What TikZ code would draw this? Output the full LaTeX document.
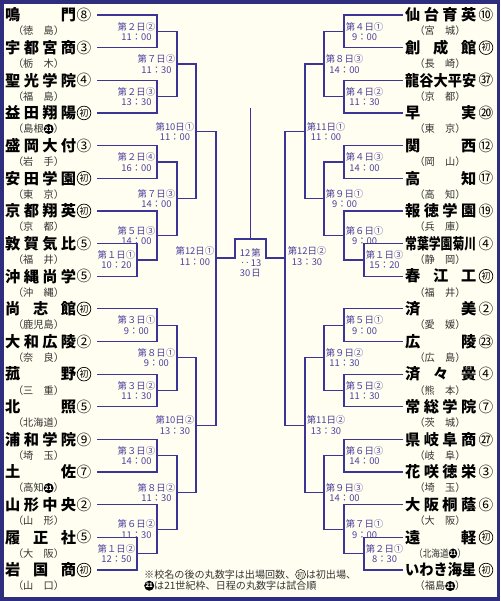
\documentclass[tikz,border=0pt]{standalone}
\usepackage{fontspec}
\setmainfont{Noto Sans CJK JP}
\usepackage{graphicx}
\definecolor{paperIvory}{HTML}{FFFEF0}
\definecolor{frameNavy}{HTML}{2E2D7E}
\definecolor{lineIndigo}{HTML}{3A3596}
\definecolor{schedPurple}{HTML}{4B40A0}
\definecolor{prefGray}{HTML}{333333}
% black circled 21 and circled "first" mark used inside texts
\newcommand{\kuro}{\tikz[baseline=-0.36em]\node[anchor=center,circle,fill=black,text=white,inner sep=0pt,minimum size=0.3cm,font=\fontsize{5.2}{5.5}\selectfont\bfseries]{21};}
\newcommand{\shoc}{\tikz[baseline=-0.36em]\node[anchor=center,circle,draw=black,line width=0.4pt,inner sep=0pt,minimum size=0.3cm,font=\fontsize{5.8}{6}\selectfont]{初};}
\newcommand{\sho}{{\fontsize{7.5}{8}\selectfont 初}}

\begin{document}
\begin{tikzpicture}[x=0.03cm, y=-0.03cm,
  school/.style={font=\fontsize{13}{14}\selectfont\bfseries, text=black, inner sep=0pt},
  pref/.style={font=\fontsize{8.7}{9}\selectfont, text=prefGray, inner sep=0pt},
  maru/.style={circle, line width=0.6pt, minimum size=0.41cm, inner sep=0pt, font=\fontsize{12.5}{13}\selectfont},
  sched/.style={font=\fontsize{8}{8.8}\selectfont, text=schedPurple, align=center, inner sep=0.5pt},
  link/.style={draw=lineIndigo, line width=1.1pt}]

  \fill[paperIvory] (0,0) rectangle (500,601);
  \useasboundingbox (0,0) rectangle (500,601);

  % --- left schools ---
  \foreach \i/\sch/\dw/\mk/\pf in {
      0/鳴\hfill 門/none/⑧/（徳　島）,
      1/宇\hfill 都\hfill 宮\hfill 商/none/③/（栃　木）,
      2/聖\hfill 光\hfill 学\hfill 院/none/④/（福　島）,
      3/益\hfill 田\hfill 翔\hfill 陽/black/\sho/（島根\kuro）,
      4/盛\hfill 岡\hfill 大\hfill 付/none/③/（岩　手）,
      5/安\hfill 田\hfill 学\hfill 園/black/\sho/（東　京）,
      6/京\hfill 都\hfill 翔\hfill 英/black/\sho/（京　都）,
      7/敦\hfill 賀\hfill 気\hfill 比/none/⑤/（福　井）,
      8/沖\hfill 縄\hfill 尚\hfill 学/none/⑤/（沖　縄）,
      9/尚\hfill 志\hfill 館/black/\sho/（鹿児島）,
      10/大\hfill 和\hfill 広\hfill 陵/none/②/（奈　良）,
      11/菰\hfill 野/black/\sho/（三　重）,
      12/北\hfill 照/none/⑤/（北海道）,
      13/浦\hfill 和\hfill 学\hfill 院/none/⑨/（埼　玉）,
      14/土\hfill 佐/none/⑦/（高知\kuro）,
      15/山\hfill 形\hfill 中\hfill 央/none/②/（山　形）,
      16/履\hfill 正\hfill 社/none/⑤/（大　阪）,
      17/岩\hfill 国\hfill 商/black/\sho/（山　口）}{
    \pgfmathsetmacro{\y}{15+32.65*\i}
    \node[school, anchor=west] (L\i) at (5,\y) {\makebox[2.13cm][s]{\sch}};
    \node[maru, draw=\dw] (Lm\i) at (84,\y) {\mk};
    \node[pref] (Lp\i) at (38.5,\y+16) {\pf};
    \coordinate (a\i) at (97,\y);
  }

  % --- right schools ---
  \foreach \i/\sch/\dw/\mk/\pf in {
      0/仙\hfill 台\hfill 育\hfill 英/none/⑩/（宮　城）,
      1/創\hfill 成\hfill 館/black/\sho/（長　崎）,
      2/\resizebox{2.13cm}{\height}{龍谷大平安}/none/㊲/（京　都）,
      3/早\hfill 実/none/⑳/（東　京）,
      4/関\hfill 西/none/⑫/（岡　山）,
      5/高\hfill 知/none/⑰/（高　知）,
      6/報\hfill 徳\hfill 学\hfill 園/none/⑲/（兵　庫）,
      7/\resizebox{2.13cm}{\height}{常葉学園菊川}/none/④/（静　岡）,
      8/春\hfill 江\hfill 工/black/\sho/（福　井）,
      9/済\hfill 美/none/②/（愛　媛）,
      10/広\hfill 陵/none/㉓/（広　島）,
      11/済\hfill 々\hfill 黌/none/④/（熊　本）,
      12/常\hfill 総\hfill 学\hfill 院/none/⑦/（茨　城）,
      13/県\hfill 岐\hfill 阜\hfill 商/none/㉗/（岐　阜）,
      14/花\hfill 咲\hfill 徳\hfill 栄/none/③/（埼　玉）,
      15/大\hfill 阪\hfill 桐\hfill 蔭/none/⑥/（大　阪）,
      16/遠\hfill 軽/black/\sho/\scalebox{0.85}[1]{（北海道\kuro）},
      17/\resizebox{2.13cm}{\height}{いわき海星}/black/\sho/（福島\kuro）}{
    \pgfmathsetmacro{\y}{15+32.65*\i}
    \node[school, anchor=west] (R\i) at (405,\y) {\makebox[2.13cm][s]{\sch}};
    \node[maru, draw=\dw] (Rm\i) at (486,\y) {\mk};
    \node[pref] (Rp\i) at (440,\y+16) {\pf};
    \coordinate (b\i) at (403,\y);
  }

  % match points
  \foreach \c/\x/\y in {m22/157/31.3, m23/157/96.6, m72/177/64, m24/157/162,
      m11/137/259.9, m53/157/235.4, m73/177/198.7, m101/196/131.3,
      m31/157/325.2, m32/157/390.5, m81/177/357.8, m33/157/455.8,
      m12/137/553.7, m62/157/529.2, m82/177/492.5, m102/196/425.2, m121/216/258,
      m41/344/31.3, m42/344/96.6, m83/324/64, m43/344/162,
      m13/364/259.9, m61/344/235.4, m91/324/198.7, m111/305/131.3,
      m51/344/325.2, m52/344/390.5, m92/324/357.8, m63/344/455.8,
      m21/364/553.7, m71/344/529.2, m93/324/492.5, m112/305/425.2, m122/285/258}
    \coordinate (\c) at (\x,\y);
  \coordinate (fin) at (250.5,239);
  \coordinate (top) at (250.5,108);

  % bracket lines
  \foreach \p/\m/\q in {a0/m22/a1, a2/m23/a3, m22/m72/m23, a4/m24/a5,
      a7/m11/a8, a6/m53/m11, m24/m73/m53, m72/m101/m73,
      a9/m31/a10, a11/m32/a12, m31/m81/m32, a13/m33/a14,
      a16/m12/a17, a15/m62/m12, m33/m82/m62, m81/m102/m82, m101/m121/m102,
      b0/m41/b1, b2/m42/b3, m41/m83/m42, b4/m43/b5,
      b7/m13/b8, b6/m61/m13, m43/m91/m61, m83/m111/m91,
      b9/m51/b10, b11/m52/b12, m51/m92/m52, b13/m63/b14,
      b16/m21/b17, b15/m71/m21, m63/m93/m71, m92/m112/m93, m111/m122/m112}
    \draw[link] (\p) -| (\m) |- (\q);
  \draw[link] (m121) -- (235,258) |- (fin) -| (266,258) -- (m122);
  \draw[link] (fin) -- (top);

  % schedule labels
  \foreach \c/\t/\h in {m22/第２日②/11：00, m23/第２日③/13：30, m72/第７日②/11：30,
      m24/第２日④/16：00, m11/第１日①/10：20, m53/第５日③/14：00, m73/第７日③/14：00,
      m101/第10日①/11：00, m31/第３日①/9：00, m32/第３日②/11：30, m81/第８日①/9：00,
      m33/第３日③/14：00, m12/第１日②/12：50, m62/第６日②/11：30, m82/第８日②/11：30,
      m102/第10日②/13：30}
    \node[sched, anchor=east] (t\c) at ([xshift=-0.03cm]\c) {\t\\\h};
  \foreach \c/\t/\h in {m41/第４日①/9：00, m42/第４日②/11：30, m83/第８日③/14：00,
      m43/第４日③/14：00, m13/第１日③/15：20, m61/第６日①/9：00, m91/第９日①/9：00,
      m111/第11日①/11：00, m51/第５日①/9：00, m52/第５日②/11：30, m92/第９日②/11：30,
      m63/第６日③/14：00, m21/第２日①/8：30, m71/第７日①/9：00, m93/第９日③/14：00,
      m112/第11日②/13：30}
    \node[sched, anchor=west] (t\c) at ([xshift=0.03cm]\c) {\t\\\h};
  \node[sched, anchor=east] (tm121) at (215,256) {第12日①\\11：00};
  \node[sched, anchor=west] (tm122) at (287,256) {第12日②\\13：30};
  % final, written in two vertical columns
  \node[sched] (fday) at (256,263) {第\\13\\日};
  \node[sched] (ftime) at (245,263) {12\\‥\\30};

  % note
  \node[anchor=north west, align=left, font=\fontsize{8.6}{9.6}\selectfont, text=prefGray, inner sep=0pt] (note) at (144,569)
    {※校名の後の丸数字は出場回数、\shoc は初出場、\\\kuro は21世紀枠、日程の丸数字は試合順};

  \draw[frameNavy, line width=3pt] (1.75,1.75) rectangle (498.25,599.25);
\end{tikzpicture}
\end{document}
